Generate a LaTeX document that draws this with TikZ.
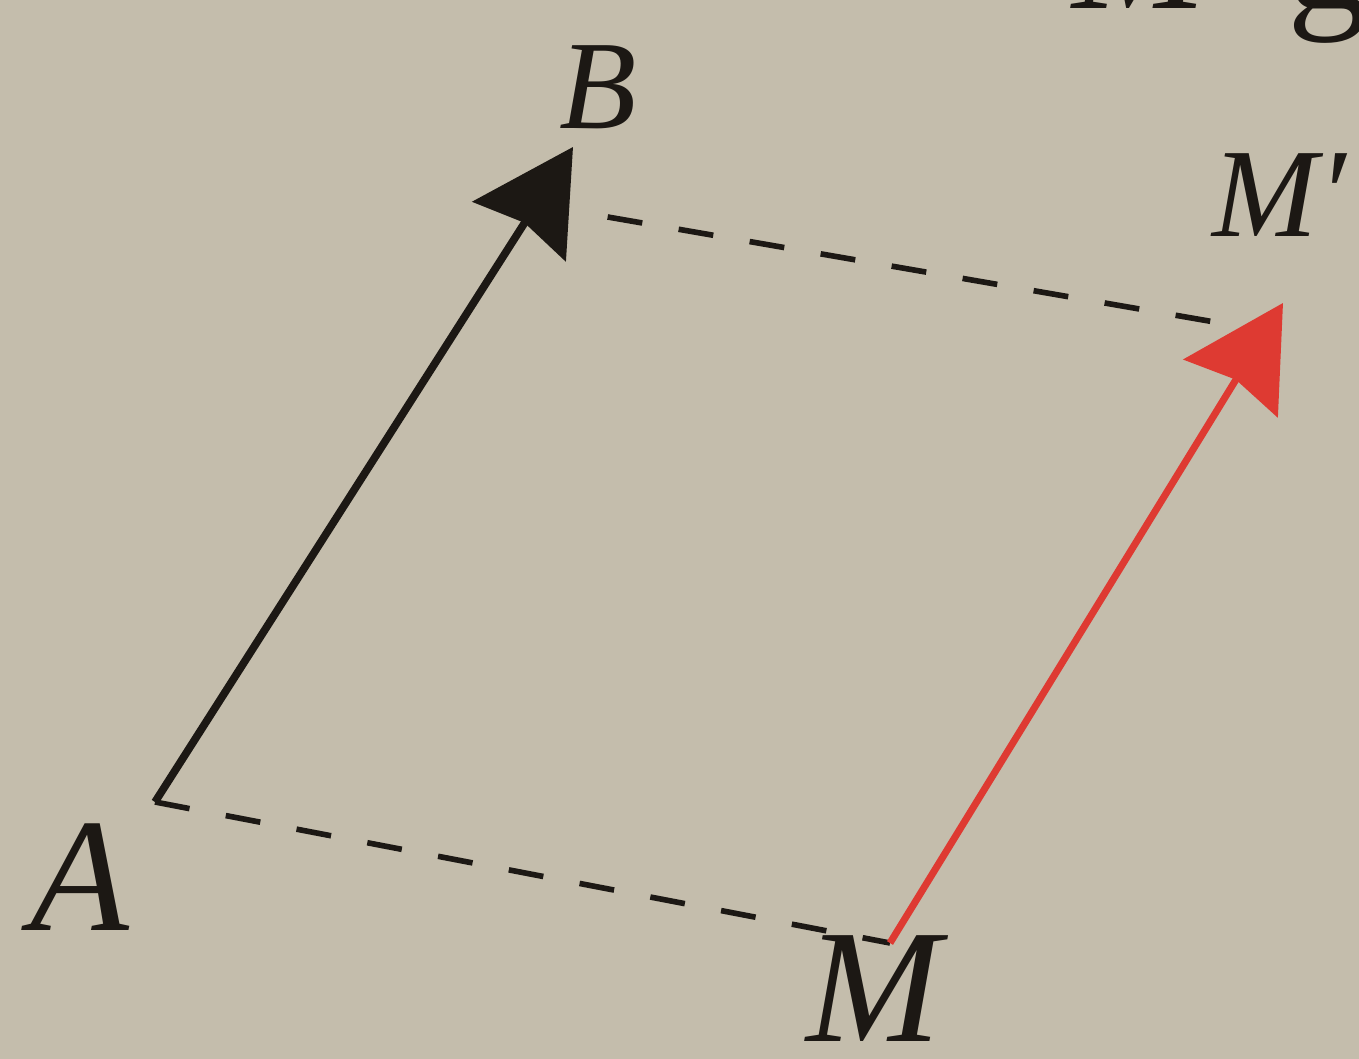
\documentclass[tikz,border=0pt]{standalone}
\usepackage{fontspec}
\setmainfont{Liberation Serif}
\usetikzlibrary{arrows.meta}
\definecolor{paper}{RGB}{196,189,172}
\definecolor{inkline}{RGB}{28,24,20}
\definecolor{vecred}{RGB}{222,58,50}

\begin{document}
\begin{tikzpicture}[
  >={Stealth[length=1.0cm, width=1.1cm, inset=0.1cm]},
  vec/.style={->, draw=inkline, line width=2.2pt},
  vecr/.style={vec, draw=vecred, line width=2pt},
  dsh/.style={draw=inkline, line width=1.6pt, dash pattern=on 10pt off 10.5pt},
  lbl/.style={font=\fontsize{46}{46}\selectfont\itshape, inner sep=0pt, text=inkline},
  lblsm/.style={lbl, font=\fontsize{36}{36}\selectfont\itshape}
]

% paper
\fill[paper] (0,0) rectangle (13.59,10.59);
\useasboundingbox (0,0) rectangle (13.59,10.59);

% points
\coordinate (A) at (1.55,2.57);
\coordinate (B) at (5.73,9.12);
\coordinate (M) at (8.90,1.16);
\coordinate (Mp) at (12.83,7.56);
\coordinate (Bd) at (5.73,8.48);
\coordinate (Mpd) at (12.55,7.30);

% translation sides
\draw[dsh] (A) -- (M);
\draw[dsh, dash phase=10.5pt] (Bd) -- (Mpd);

% vectors
\draw[vec] (A) -- (B);
\draw[vecr] (M) -- (Mp);

% labels
\node[lbl] (lA) at (0.80,1.82) {A};
\node[lbl] (lM) at (8.74,0.70) {M};
\node[lblsm] (lB) at (5.98,9.72) {B};
\node[lblsm, anchor=base west] (lMp) at (12.12,8.22) {M′};
\node[lbl, anchor=base west] (lTop) at (10.72,10.50) {M′\hspace{0.45cm}\upshape g};
\end{tikzpicture}
\end{document}
